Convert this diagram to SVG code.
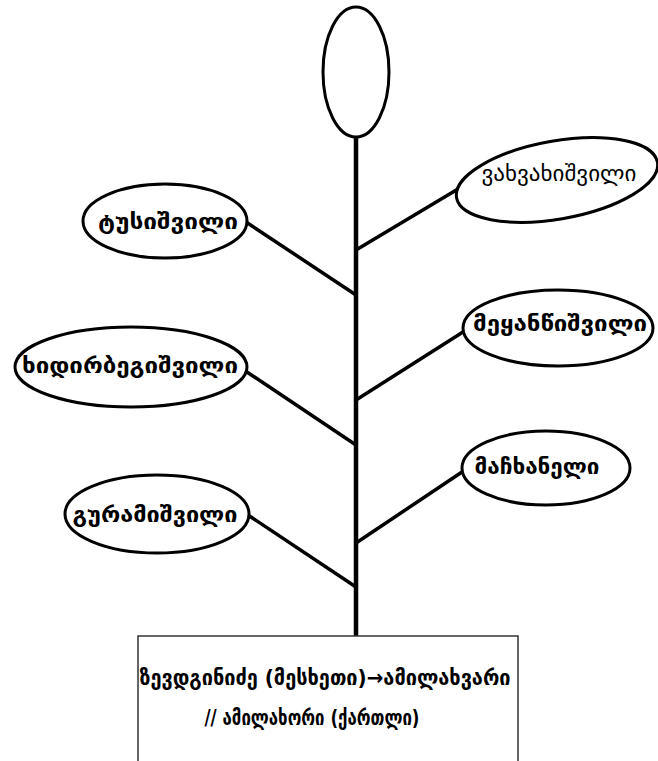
<svg xmlns="http://www.w3.org/2000/svg" width="658" height="761" viewBox="0 0 658 761">
  <style>
    .oval { fill: #fff; stroke: #000; stroke-width: 3; }
    .line { stroke: #000; stroke-width: 3.5; fill: none; stroke-linecap: butt; }
    .trunk { stroke: #000; stroke-width: 4.5; fill: none; }
    .lbl { font-family: "DejaVu Sans", "Noto Sans", sans-serif; font-size: 21px; font-weight: bold; fill: #000; text-anchor: middle; dominant-baseline: central; }
    .lbl-thin { font-family: "DejaVu Sans", "Noto Sans", sans-serif; font-size: 22px; fill: #000; text-anchor: middle; dominant-baseline: central; }
    .box { fill: #fff; stroke: #333; stroke-width: 1.5; }
    .boxtxt { font-family: "DejaVu Sans", "Noto Sans", sans-serif; font-size: 21px; font-weight: bold; fill: #000; text-anchor: middle; dominant-baseline: central; }
  </style>

  <g id="connectors">
    <line class="trunk" x1="356" y1="136" x2="356" y2="637"/>
    <line class="line" x1="246" y1="222" x2="356" y2="295"/>
    <line class="line" x1="356" y1="250" x2="458" y2="189"/>
    <line class="line" x1="244" y1="370" x2="356" y2="445"/>
    <line class="line" x1="356" y1="400" x2="463" y2="332"/>
    <line class="line" x1="248" y1="515" x2="356" y2="587"/>
    <line class="line" x1="356" y1="543" x2="462" y2="472"/>
  </g>

  <g id="crown">
    <ellipse class="oval" cx="356" cy="72" rx="33" ry="65"/>
  </g>

  <g id="vakhvakhishvili">
    <ellipse class="oval" cx="557" cy="180" rx="102" ry="39" transform="rotate(-10 557 180)"/>
    <text class="lbl-thin" x="559" y="173" textLength="155" lengthAdjust="spacingAndGlyphs">ვახვახიშვილი</text>
  </g>

  <g id="tusishvili">
    <ellipse class="oval" cx="165" cy="221" rx="82" ry="37"/>
    <text class="lbl" x="168" y="222" textLength="140" lengthAdjust="spacingAndGlyphs">ტუსიშვილი</text>
  </g>

  <g id="meyantsishvili">
    <ellipse class="oval" cx="558" cy="328" rx="95" ry="38"/>
    <text class="lbl" x="560" y="324" textLength="174" lengthAdjust="spacingAndGlyphs">მეყანწიშვილი</text>
  </g>

  <g id="khidirbegishvili">
    <ellipse class="oval" cx="131" cy="367" rx="116" ry="40"/>
    <text class="lbl" x="130" y="366" textLength="216" lengthAdjust="spacingAndGlyphs">ხიდირბეგიშვილი</text>
  </g>

  <g id="machkhaneli">
    <ellipse class="oval" cx="546" cy="468" rx="84" ry="37"/>
    <text class="lbl" x="537" y="467" textLength="125" lengthAdjust="spacingAndGlyphs">მაჩხანელი</text>
  </g>

  <g id="guramishvili">
    <ellipse class="oval" cx="157" cy="514" rx="92" ry="39"/>
    <text class="lbl" x="155" y="515" textLength="165" lengthAdjust="spacingAndGlyphs">გურამიშვილი</text>
  </g>

  <g id="origin">
    <rect class="box" x="138" y="636" width="380" height="140"/>
    <text class="boxtxt" x="325" y="678" textLength="371" lengthAdjust="spacingAndGlyphs">ზევდგინიძე (მესხეთი)→ამილახვარი</text>
    <text class="boxtxt" x="312" y="718" textLength="215" lengthAdjust="spacingAndGlyphs">// ამილახორი (ქართლი)</text>
  </g>
</svg>
